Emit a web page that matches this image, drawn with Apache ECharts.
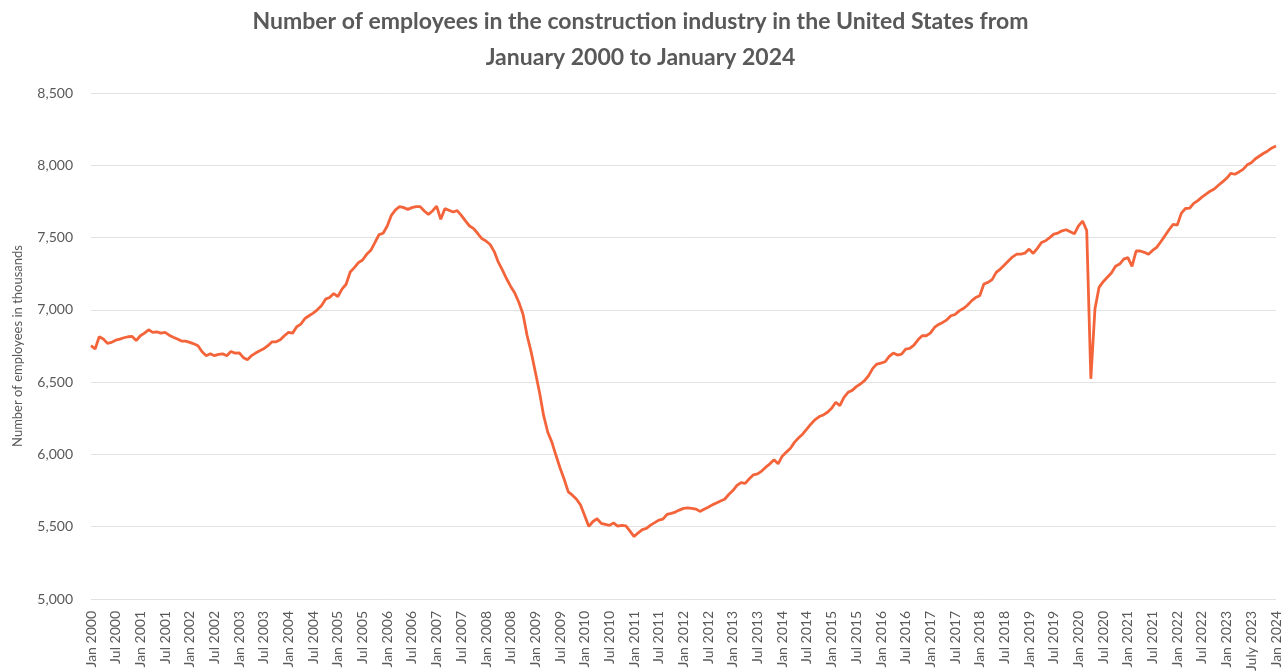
<!DOCTYPE html>
<html>
<head>
<meta charset="utf-8">
<title>Construction employees US 2000-2024</title>
<script src="https://cdn.jsdelivr.net/npm/echarts@6/dist/echarts.min.js"></script>
<style>
  html, body { margin: 0; padding: 0; background: #fff; }
  #chart { width: 1281px; height: 672px; }
</style>
</head>
<body>
<div id="chart"></div>
<script>
// monthly values, thousands of employees
var y2000_2003 = [6752, 6729, 6814, 6798, 6768, 6775, 6790, 6798, 6807, 6814, 6816, 6788,
                  6821, 6839, 6862, 6844, 6848, 6839, 6844, 6825, 6811, 6798, 6784, 6784,
                  6775, 6765, 6752, 6710, 6683, 6696, 6683, 6692, 6696, 6683, 6712, 6701,
                  6703, 6671, 6655, 6683, 6701, 6717, 6731, 6752, 6779, 6779, 6793, 6821];
var y2004_2007 = [6844, 6839, 6883, 6901, 6940, 6959, 6977, 7000, 7028, 7074, 7085, 7113,
                  7092, 7143, 7177, 7262, 7292, 7327, 7345, 7384, 7412, 7465, 7520, 7530,
                  7580, 7654, 7691, 7714, 7707, 7695, 7707, 7714, 7714, 7684, 7661, 7684,
                  7718, 7626, 7700, 7689, 7677, 7686, 7654, 7615, 7580, 7562, 7528, 7493];
var y2008_2011 = [7476, 7452, 7403, 7330, 7275, 7215, 7162, 7116, 7051, 6970, 6821, 6706,
                  6568, 6430, 6270, 6155, 6085, 5994, 5906, 5828, 5741, 5718, 5690, 5649,
                  5575, 5502, 5536, 5555, 5523, 5516, 5509, 5526, 5504, 5510, 5506, 5470,
                  5432, 5458, 5480, 5488, 5511, 5528, 5546, 5552, 5586, 5592, 5601, 5615];
var y2012_2015 = [5627, 5631, 5627, 5622, 5606, 5621, 5635, 5651, 5664, 5678, 5690, 5723,
                  5750, 5786, 5805, 5800, 5832, 5859, 5866, 5885, 5912, 5935, 5963, 5935,
                  5988, 6016, 6043, 6085, 6115, 6142, 6177, 6211, 6241, 6262, 6273, 6292,
                  6319, 6361, 6338, 6395, 6430, 6443, 6469, 6487, 6510, 6545, 6595, 6625];
var y2016_2019 = [6632, 6641, 6678, 6701, 6687, 6694, 6729, 6733, 6756, 6793, 6821, 6821,
                  6839, 6878, 6899, 6913, 6931, 6959, 6968, 6993, 7009, 7032, 7062, 7085,
                  7098, 7179, 7190, 7209, 7259, 7282, 7310, 7340, 7367, 7386, 7386, 7393,
                  7420, 7390, 7425, 7466, 7478, 7500, 7524, 7531, 7547, 7554, 7540, 7526];
var y2020_2024 = [7581, 7614, 7549, 6523, 7006, 7156, 7195, 7225, 7255, 7301, 7317, 7351,
                  7361, 7301, 7407, 7407, 7398, 7384, 7411, 7432, 7471, 7512, 7554, 7591,
                  7586, 7669, 7701, 7703, 7736, 7756, 7780, 7800, 7821, 7836, 7862, 7885,
                  7910, 7944, 7938, 7954, 7972, 8003, 8018, 8045, 8064, 8083, 8099, 8120,
                  8133];

var employees = [].concat(y2000_2003, y2004_2007, y2008_2011, y2012_2015, y2016_2019, y2020_2024);

var monthNames = ['Jan', 'Feb', 'Mar', 'Apr', 'May', 'Jun', 'Jul', 'Aug', 'Sep', 'Oct', 'Nov', 'Dec'];
var months = [];
for (var i = 0; i < employees.length; i++) {
  var label = monthNames[i % 12] + ' ' + (2000 + Math.floor(i / 12));
  if (label === 'Jul 2023') label = 'July 2023';   // as written on the original
  months.push(label);
}

var yTicks = [5000, 5500, 6000, 6500, 7000, 7500, 8000, 8500];

var textColor = '#595959';
var chart = echarts.init(document.getElementById('chart'));
chart.setOption({
  animation: false,
  textStyle: { fontFamily: 'Lato' },
  title: {
    text: 'Number of employees in the construction industry in the United States from\nJanuary 2000 to January 2024',
    left: 'center',
    top: -1,
    textStyle: {
      fontFamily: 'Lato',
      fontWeight: 'bold',
      fontSize: 23,
      lineHeight: 36,
      color: textColor
    }
  },
  grid: {
    left: 91,
    right: 5,
    top: 93,
    bottom: 73,
    outerBoundsMode: 'none'   // labels run off the bottom like the original
  },
  xAxis: {
    type: 'category',
    boundaryGap: false,
    data: months,
    axisLine: { show: false },
    axisTick: { show: false },
    axisLabel: {
      interval: 5,
      rotate: 90,
      margin: 12,
      fontSize: 14,
      color: textColor
    }
  },
  yAxis: {
    type: 'value',
    min: yTicks[0],
    max: yTicks[yTicks.length - 1],
    interval: 500,
    name: 'Number of employees in thousands',
    nameLocation: 'middle',
    nameGap: 67,
    nameTextStyle: { fontSize: 13, color: textColor },
    axisLine: { show: false },
    axisTick: { show: false },
    axisLabel: {
      margin: 18,
      fontSize: 14,
      color: textColor,
      formatter: function (v) { return v.toLocaleString('en-US'); }
    },
    splitLine: { lineStyle: { color: '#e2e2e2', width: 1 } }
  },
  series: [{
    name: 'Employees',
    type: 'line',
    data: employees,
    showSymbol: false,
    symbol: 'none',
    lineStyle: { color: '#f4643a', width: 2.8 },
    itemStyle: { color: '#f4643a' }
  }]
});
</script>
</body>
</html>
